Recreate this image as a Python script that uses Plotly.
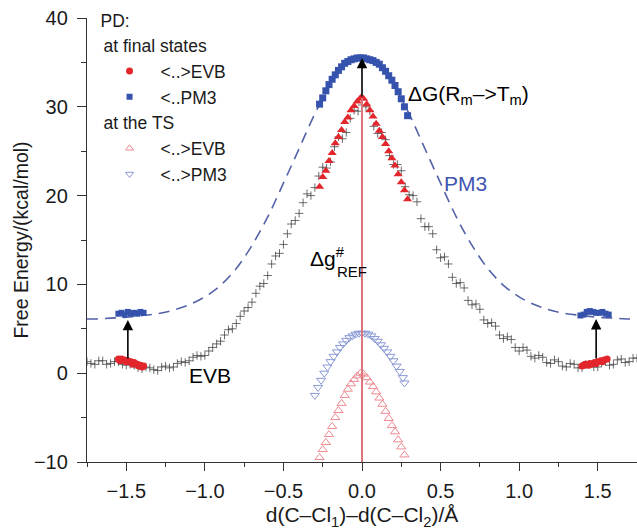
import plotly.graph_objects as go

# ---------------- data ----------------
# EVB free-energy profile (gray crosses), two interleaved sample sets
evb_x_a = [-1.75, -1.70, -1.65, -1.60, -1.55, -1.50, -1.45, -1.40, -1.35, -1.30, -1.25, -1.20,
           -1.15, -1.10, -1.05, -1.00, -0.95, -0.90, -0.85, -0.80, -0.75, -0.70, -0.65, -0.60,
           -0.55, -0.50, -0.45, -0.40, -0.35, -0.30, -0.25, -0.20, -0.15, -0.10, -0.05, 0.00,
           0.05, 0.10, 0.15, 0.20, 0.25, 0.30, 0.35, 0.40, 0.45, 0.50, 0.55, 0.60,
           0.65, 0.70, 0.75, 0.80, 0.85, 0.90, 0.95, 1.00, 1.05, 1.10, 1.15, 1.20,
           1.25, 1.30, 1.35, 1.40, 1.45, 1.50, 1.55, 1.60, 1.65, 1.70, 1.75]
evb_y_a = [1.3, 1.0, 1.4, 1.1, 1.3, 0.9, 0.9, 0.5, 0.6, 0.3, 0.8, 0.7,
           1.3, 1.4, 2.0, 2.0, 2.9, 3.6, 4.9, 5.6, 7.0, 8.0, 9.8, 11.0,
           13.2, 14.5, 16.8, 18.0, 20.2, 20.9, 23.2, 23.8, 26.6, 27.1, 29.6, 30.2,
           29.5, 27.0, 26.3, 23.5, 22.8, 20.1, 19.3, 16.5, 15.7, 13.0, 12.3, 10.1,
           9.6, 7.7, 7.2, 5.6, 5.3, 3.9, 3.8, 2.5, 2.6, 1.7, 1.8, 1.1,
           1.3, 0.7, 1.0, 0.6, 1.0, 0.7, 1.3, 1.0, 1.6, 1.3, 1.7]
evb_x_b = [-1.725, -1.675, -1.625, -1.575, -1.525, -1.475, -1.425, -1.375, -1.325, -1.275,
           -1.225, -1.175, -1.125, -1.075, -1.025, -0.975, -0.925, -0.875, -0.825, -0.775,
           -0.725, -0.675, -0.625, -0.575, -0.525, -0.475, -0.425, -0.375, -0.325, -0.275,
           -0.225, -0.175, -0.125, -0.075, -0.025, 0.025, 0.075, 0.125, 0.175, 0.225,
           0.275, 0.325, 0.375, 0.425, 0.475, 0.525, 0.575, 0.625, 0.675, 0.725,
           0.775, 0.825, 0.875, 0.925, 0.975, 1.025, 1.075, 1.125, 1.175, 1.225,
           1.275, 1.325, 1.375, 1.425, 1.475, 1.525, 1.575, 1.625, 1.675, 1.725]
evb_y_b = [1.1, 1.4, 1.0, 1.3, 1.0, 1.0, 0.6, 0.7, 0.4, 0.7,
           0.6, 1.1, 1.2, 1.8, 1.9, 2.5, 3.3, 4.3, 5.0, 6.4,
           7.4, 9.0, 10.1, 12.3, 13.5, 15.7, 17.2, 19.2, 20.0, 22.2,
           23.1, 25.5, 26.4, 28.7, 29.5, 30.0, 27.8, 27.1, 24.5, 23.5,
           21.0, 20.0, 17.4, 16.5, 13.9, 13.1, 10.8, 10.2, 8.2, 7.8,
           6.0, 5.7, 4.3, 4.1, 2.9, 2.9, 1.9, 2.0, 1.2, 1.5,
           0.8, 1.1, 0.6, 1.0, 0.7, 1.2, 0.9, 1.5, 1.2, 1.7]

# PM3 profile (dashed curve)
pm3_x = [-1.75, -1.7, -1.6, -1.5, -1.4, -1.3, -1.2, -1.1, -1.0, -0.9, -0.8, -0.7, -0.6, -0.5,
         -0.4, -0.3, -0.2, -0.1, 0.0, 0.1, 0.2, 0.3, 0.4, 0.5, 0.6, 0.7, 0.8, 0.9, 1.0,
         1.1, 1.2, 1.3, 1.4, 1.5, 1.6, 1.7, 1.75]
pm3_y = [6.1, 6.1, 6.2, 6.3, 6.5, 6.7, 7.1, 7.7, 8.6, 9.9, 11.8, 14.4, 17.6, 21.4,
         25.3, 29.2, 32.5, 34.8, 35.5, 34.8, 32.5, 29.2, 25.3, 21.4, 17.6, 14.4, 11.8, 9.9, 8.6,
         7.7, 7.1, 6.7, 6.5, 6.3, 6.2, 6.1, 6.1]

# PD at final states: <..>EVB (red filled circles) near reactant/product minima
fs_evb_x = [-1.55, -1.54, -1.53, -1.51, -1.50, -1.49, -1.47, -1.46, -1.45, -1.43, -1.42, -1.41, -1.40, -1.39,
            1.40, 1.41, 1.42, 1.44, 1.45, 1.46, 1.48, 1.49, 1.50, 1.52, 1.53, 1.54, 1.56]
fs_evb_y = [1.6, 1.4, 1.6, 1.5, 1.3, 1.4, 1.3, 1.0, 1.2, 1.0, 0.8, 0.9, 0.7, 0.8,
            0.8, 0.9, 1.0, 0.9, 1.1, 1.0, 1.2, 1.1, 1.3, 1.4, 1.3, 1.5, 1.6]
# PD at final states: <..PM3 (blue filled squares)
fs_pm3_x = [-1.55, -1.53, -1.51, -1.49, -1.47, -1.45, -1.43, -1.41, -1.39,
            1.39, 1.41, 1.43, 1.45, 1.47, 1.49, 1.51, 1.53, 1.55, 1.57]
fs_pm3_y = [6.7, 6.8, 6.6, 6.9, 6.7, 6.8, 6.7, 6.9, 6.8,
            6.5, 6.6, 6.9, 7.0, 6.9, 6.8, 6.8, 6.9, 6.7, 6.6]

# same PDs along the barrier region
top_evb_x = [-0.27, -0.25, -0.23, -0.21, -0.19, -0.17, -0.15, -0.13, -0.11, -0.09, -0.07, -0.05, -0.03, -0.01,
             0.01, 0.03, 0.05, 0.07, 0.09, 0.11, 0.13, 0.15, 0.17, 0.19, 0.21, 0.23, 0.25, 0.27, 0.29]
top_evb_y = [21.0, 22.1, 22.8, 23.9, 24.8, 25.9, 26.6, 27.4, 28.3, 28.8, 29.6, 30.1, 30.6, 31.0,
             30.9, 30.3, 29.6, 28.9, 28.1, 27.3, 26.6, 25.8, 25.0, 24.2, 23.4, 22.4, 21.5, 20.6, 19.6]
top_pm3_x = [-0.27, -0.25, -0.23, -0.21, -0.19, -0.17, -0.15, -0.13, -0.11, -0.09, -0.07, -0.05, -0.03, -0.01,
             0.01, 0.03, 0.05, 0.07, 0.09, 0.11, 0.13, 0.15, 0.17, 0.19, 0.21, 0.23, 0.25, 0.27, 0.29]
top_pm3_y = [30.3, 31.0, 31.8, 32.5, 33.1, 33.6, 34.1, 34.5, 34.9, 35.1, 35.3, 35.4, 35.5, 35.5,
             35.5, 35.4, 35.3, 35.2, 35.0, 34.8, 34.4, 34.0, 33.5, 33.0, 32.4, 31.7, 30.9, 30.0, 29.0]

# PD at the TS
ts_pm3_x = [-0.30, -0.28, -0.26, -0.24, -0.22, -0.20, -0.18, -0.16, -0.14, -0.12, -0.10, -0.08, -0.06, -0.04, -0.02,
            0.00, 0.02, 0.04, 0.06, 0.08, 0.10, 0.12, 0.14, 0.16, 0.18, 0.20, 0.22, 0.24, 0.26, 0.27]
ts_pm3_y = [-2.5, -1.6, -0.8, 0.0, 0.7, 1.3, 1.9, 2.4, 2.9, 3.3, 3.7, 4.0, 4.2, 4.4, 4.5,
            4.5, 4.5, 4.4, 4.2, 3.9, 3.6, 3.2, 2.8, 2.4, 1.9, 1.4, 0.8, 0.2, -0.5, -1.1]
ts_evb_x = [-0.27, -0.25, -0.23, -0.21, -0.19, -0.17, -0.15, -0.13, -0.11, -0.09, -0.07, -0.05, -0.03, -0.01,
            0.01, 0.03, 0.05, 0.07, 0.09, 0.11, 0.13, 0.15, 0.17, 0.19, 0.21, 0.23, 0.25, 0.27]
ts_evb_y = [-9.5, -8.6, -7.8, -6.9, -6.0, -5.0, -4.2, -3.4, -2.5, -1.8, -1.2, -0.7, -0.3, 0.0,
            -0.1, -0.5, -1.0, -1.5, -2.1, -2.8, -3.5, -4.3, -5.1, -5.9, -6.6, -7.5, -8.3, -9.2]

# arrows (x, from, to) and reference barrier line
arrow_x = [-1.49, 0.0, 1.49]
arrow_from = [1.5, 31.0, 1.5]
arrow_to = [6.0, 35.5, 6.1]
ref_x = 0.0
ref_bottom = -10.0
ref_top = 31.0

x_ticks = [-1.5, -1.0, -0.5, 0.0, 0.5, 1.0, 1.5]
y_ticks = [-10, 0, 10, 20, 30, 40]

# ---------------- styles ----------------
FONT = "Liberation Sans, Arial, Helvetica, sans-serif"
RED = "#e3262c"
BLUE = "#3552ad"
DASH_BLUE = "#5462a9"
LRED = "#ee8a92"
LBLUE = "#8a98d4"
GRAY = "rgba(60,60,60,0.75)"

fig = go.Figure()

for xs, ys in [(evb_x_a, evb_y_a), (evb_x_b, evb_y_b)]:
    fig.add_trace(go.Scatter(x=xs, y=ys, mode="markers", showlegend=False, hoverinfo="skip",
                             marker=dict(symbol="cross-thin", size=6,
                                         line=dict(color=GRAY, width=1))))

fig.add_trace(go.Scatter(x=pm3_x, y=pm3_y, mode="lines", showlegend=False, hoverinfo="skip",
                         line=dict(color=DASH_BLUE, width=1.6, dash="11px,7px", shape="spline")))

# TS points
fig.add_trace(go.Scatter(x=ts_pm3_x, y=ts_pm3_y, mode="markers", showlegend=False,
                         marker=dict(symbol="triangle-down-open", size=8, color=LBLUE,
                                     line=dict(width=1))))
fig.add_trace(go.Scatter(x=ts_evb_x, y=ts_evb_y, mode="markers", showlegend=False,
                         marker=dict(symbol="triangle-up-open", size=8, color=LRED,
                                     line=dict(width=1))))

# barrier points
fig.add_trace(go.Scatter(x=top_evb_x, y=top_evb_y, mode="markers", showlegend=False,
                         marker=dict(symbol="triangle-up", size=8, color=RED)))
fig.add_trace(go.Scatter(x=top_pm3_x, y=top_pm3_y, mode="markers", showlegend=False,
                         marker=dict(symbol="square", size=7, color=BLUE)))

# legend traces (data at final states)
fig.add_trace(go.Scatter(x=fs_evb_x, y=fs_evb_y, mode="markers", name="&lt;..&gt;EVB",
                         legendgroup="fs", legendgrouptitle_text="at final states",
                         marker=dict(symbol="circle", size=7, color=RED)))
fig.add_trace(go.Scatter(x=fs_pm3_x, y=fs_pm3_y, mode="markers", name="&lt;..PM3",
                         legendgroup="fs",
                         marker=dict(symbol="square", size=6, color=BLUE)))
fig.add_trace(go.Scatter(x=[None], y=[None], mode="markers", name="&lt;..&gt;EVB",
                         legendgroup="ts", legendgrouptitle_text="at the TS",
                         marker=dict(symbol="triangle-up-open", size=7, color=LRED)))
fig.add_trace(go.Scatter(x=[None], y=[None], mode="markers", name="&lt;..&gt;PM3",
                         legendgroup="ts",
                         marker=dict(symbol="triangle-down-open", size=7, color=LBLUE)))

# reference line
fig.add_shape(type="line", x0=ref_x, x1=ref_x, y0=ref_bottom, y1=ref_top, xref="x", yref="y",
              line=dict(color="#d9777c", width=2), layer="above")

annotations = []
for ax_, y0, y1 in zip(arrow_x, arrow_from, arrow_to):
    annotations.append(dict(x=ax_, y=y1, ax=ax_, ay=y0, xref="x", yref="y", axref="x", ayref="y",
                            showarrow=True, arrowhead=2, arrowsize=1.3, arrowwidth=1.6,
                            arrowcolor="black", text=""))

annotations += [
    dict(x=0.28, y=31.3, xref="x", yref="y", xanchor="left", yanchor="middle", showarrow=False,
         text="ΔG(R<sub>m</sub>–&gt;T<sub>m</sub>)", font=dict(size=21, color="black", family=FONT)),
    dict(x=0.51, y=21.4, xref="x", yref="y", xanchor="left", yanchor="middle", showarrow=False,
         text="PM3", font=dict(size=21, color="#3f55b0", family=FONT)),
    dict(x=-0.97, y=-0.3, xref="x", yref="y", xanchor="center", yanchor="middle", showarrow=False,
         text="EVB", font=dict(size=21, color="black", family=FONT)),
    dict(x=-0.345, y=13.1, xref="x", yref="y", xanchor="left", yanchor="middle", showarrow=False,
         text="Δg<sup>#</sup>", font=dict(size=21, color="black", family=FONT)),
    dict(x=-0.175, y=11.5, xref="x", yref="y", xanchor="left", yanchor="middle", showarrow=False,
         text="REF", font=dict(size=15, color="black", family=FONT)),
]

fig.update_layout(
    width=637, height=532,
    margin=dict(l=87, r=0, t=18, b=70),
    paper_bgcolor="white", plot_bgcolor="white",
    font=dict(family=FONT, size=20, color="#1a1a1a"),
    annotations=annotations,
    legend=dict(x=0.021, y=1.03, xanchor="left", yanchor="top", bgcolor="rgba(0,0,0,0)",
                title=dict(text="PD:", font=dict(size=17.5)), font=dict(size=17.5),
                tracegroupgap=0, itemwidth=52, groupclick="toggleitem",
                grouptitlefont=dict(size=17.5)),
    xaxis=dict(range=[-1.75, 1.75], tickvals=x_ticks, ticktext=[f"{v:.1f}".replace("-", "−") for v in x_ticks],
               showgrid=False, zeroline=False, showline=True, linecolor="#333", linewidth=1.3,
               ticks="outside", ticklen=8, tickwidth=1.3, tickcolor="#333", ticklabelstandoff=3,
               tickfont=dict(size=20),
               minor=dict(dtick=0.25, tick0=0, ticks="outside", ticklen=4, tickwidth=1.3, tickcolor="#333"),
               title=dict(text="d(C–Cl<sub>1</sub>)–d(C–Cl<sub>2</sub>)/Å", standoff=6, font=dict(size=21))),
    yaxis=dict(range=[-10, 40], tickvals=y_ticks, ticktext=[str(v).replace("-", "−") for v in y_ticks],
               showgrid=False, zeroline=False, showline=True, linecolor="#333", linewidth=1.3,
               ticks="outside", ticklen=9, tickwidth=1.3, tickcolor="#333", ticklabelstandoff=5,
               tickfont=dict(size=20),
               minor=dict(dtick=5, tick0=0, ticks="outside", ticklen=5, tickwidth=1.3, tickcolor="#333"),
               title=dict(text="Free Energy/(kcal/mol)", standoff=0, font=dict(size=19.5))),
)

fig.write_html("out.html")
